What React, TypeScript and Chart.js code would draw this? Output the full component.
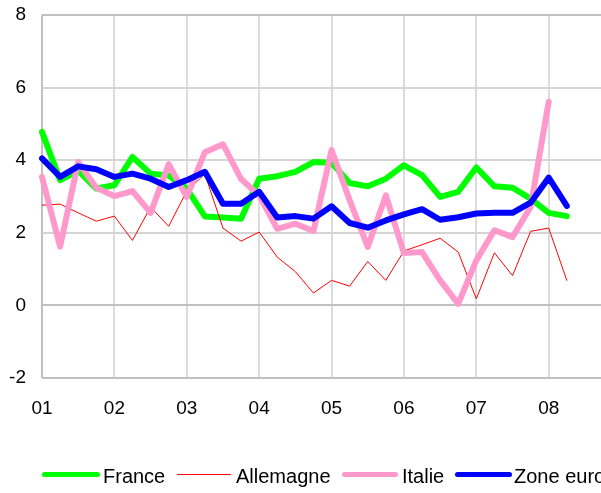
import React, { useEffect, useRef } from "react";
import { Chart, registerables } from "chart.js";

Chart.register(...registerables);

const years = ["01", "02", "03", "04", "05", "06", "07", "08"];
const quarterLabels: string[] = [];
years.forEach((y) => {
  quarterLabels.push(y, "", "", "");
});

const france = [4.78, 3.45, 3.71, 3.22, 3.31, 4.09, 3.63, 3.58, 3.22, 2.45, 2.42, 2.39, 3.49, 3.56, 3.68, 3.95, 3.93, 3.37, 3.28, 3.49, 3.86, 3.59, 2.99, 3.13, 3.80, 3.28, 3.24, 2.94, 2.55, 2.46, null, null];
const allemagne = [2.76, 2.79, 2.55, 2.32, 2.46, 1.79, 2.71, 2.18, 3.15, 3.62, 2.13, 1.77, 2.02, 1.33, 0.93, 0.34, 0.69, 0.53, 1.21, 0.69, 1.50, 1.67, 1.85, 1.47, 0.18, 1.45, 0.82, 2.04, 2.13, 0.69, null, null];
const italie = [3.54, 1.62, 3.95, 3.24, 3.01, 3.15, 2.55, 3.89, 2.99, 4.22, 4.44, 3.48, 3.03, 2.11, 2.25, 2.05, 4.28, 2.90, 1.61, 3.03, 1.44, 1.47, 0.69, 0.04, 1.24, 2.07, 1.88, 2.71, 5.61, null, null, null];
const zoneEuro = [4.05, 3.54, 3.83, 3.75, 3.54, 3.63, 3.49, 3.26, 3.45, 3.68, 2.80, 2.80, 3.13, 2.42, 2.46, 2.39, 2.73, 2.27, 2.14, 2.34, 2.51, 2.65, 2.36, 2.43, 2.53, 2.55, 2.55, 2.83, 3.52, 2.74, null, null];

const seriesNames = ["France", "Allemagne", "Italie", "Zone euro"];
const seriesColors = ["#00ff00", "#ff0000", "#ff99cc", "#0000ff"];
const seriesWidths = [6, 1, 6, 6];
const yTicks = [-2, 0, 2, 4, 6, 8];

const FONT = "'Liberation Sans', Arial, sans-serif";

const axisLabels = {
  id: "axisLabels",
  afterDraw(chart: any) {
    const ctx = chart.ctx;
    const xs = chart.scales.x;
    const ys = chart.scales.y;
    ctx.save();
    ctx.font = `19px ${FONT}`;
    ctx.fillStyle = "#000";
    ctx.textBaseline = "middle";
    ctx.textAlign = "right";
    yTicks.forEach((v) => {
      ctx.fillText(String(v), 26, ys.getPixelForValue(v));
    });
    ctx.textAlign = "center";
    quarterLabels.forEach((lab, i) => {
      if (!lab) return;
      ctx.fillText(lab, xs.getPixelForValue(i), ys.bottom + 31);
    });
    ctx.restore();
  },
};

export default function App() {
  const ref = useRef<HTMLCanvasElement | null>(null);

  useEffect(() => {
    if (!ref.current) return;
    const data = [france, allemagne, italie, zoneEuro];
    const chart = new Chart(ref.current, {
      type: "line",
      data: {
        labels: quarterLabels,
        datasets: data.map((d, i) => ({
          label: seriesNames[i],
          data: d,
          borderColor: seriesColors[i],
          backgroundColor: seriesColors[i],
          borderWidth: seriesWidths[i],
          pointRadius: 0,
          tension: 0,
          fill: false,
          borderJoinStyle: "round" as const,
          borderCapStyle: "round" as const,
          order: 4 - i,
          spanGaps: false,
        })),
      },
      plugins: [axisLabels],
      options: {
        responsive: false,
        animation: false,
        events: [],
        layout: { padding: { top: 15, right: 22, left: 0, bottom: 0 } },
        plugins: { legend: { display: false }, tooltip: { enabled: false } },
        scales: {
          x: {
            type: "category",
            offset: false,
            border: { display: false },
            grid: {
              drawTicks: false,
              lineWidth: 2,
              color: (ctx: any) =>
                ctx.index % 4 === 0 ? (ctx.index === 0 ? "#c0c0c0" : "#dcdcdc") : "rgba(0,0,0,0)",
            },
            ticks: { display: false, autoSkip: false, maxRotation: 0 },
            afterFit: (scale: any) => {
              scale.height = 115;
            },
          },
          y: {
            min: -2,
            max: 8,
            border: { display: false },
            afterBuildTicks: (scale: any) => {
              scale.ticks = yTicks.map((v) => ({ value: v }));
            },
            grid: {
              drawTicks: false,
              lineWidth: 2,
              color: (ctx: any) => {
                const v = ctx.tick ? ctx.tick.value : null;
                if (v === 0 || v === -2 || v === 8) return "#c0c0c0";
                return "#d4d4d4";
              },
            },
            ticks: { display: false },
            afterFit: (scale: any) => {
              scale.width = 42;
            },
          },
        },
      },
    });
    return () => chart.destroy();
  }, []);

  const lineLeft = [42, 177, 342, 455];
  const lineWidth = [58, 54, 56, 57];
  const textLeft = [103, 236, 402, 514];

  return (
    <div style={{ position: "fixed", left: 0, top: 0, width: 601, height: 493, overflow: "hidden", background: "#fff" }}>
      <canvas ref={ref} width={625} height={493} style={{ position: "absolute", left: 0, top: 0, width: 625, height: 493 }} />
      {seriesNames.map((n, i) => (
        <React.Fragment key={n}>
          <div
            style={{
              position: "absolute",
              left: lineLeft[i],
              top: seriesWidths[i] === 1 ? 473.5 : 471.5,
              width: lineWidth[i],
              height: seriesWidths[i] === 1 ? 1.5 : 5,
              background: seriesColors[i],
              borderRadius: 3,
            }}
          />
          <div
            style={{
              position: "absolute",
              left: textLeft[i],
              top: 463,
              fontFamily: FONT,
              fontSize: 20,
              lineHeight: "26px",
              color: "#000",
              whiteSpace: "nowrap",
            }}
          >
            {n}
          </div>
        </React.Fragment>
      ))}
    </div>
  );
}
